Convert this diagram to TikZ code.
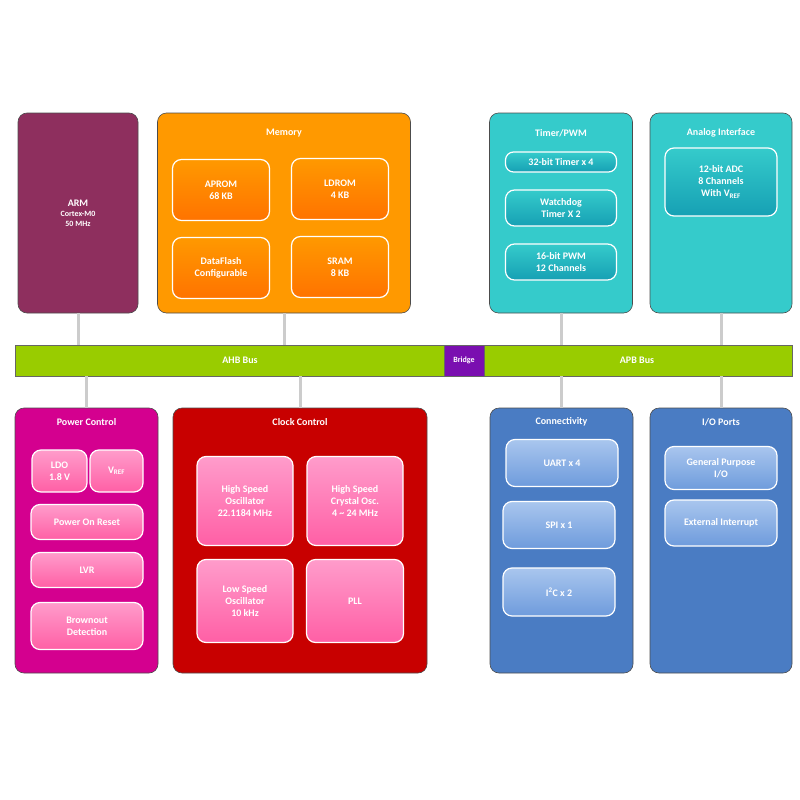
\documentclass[tikz,border=0pt]{standalone}
\usepackage{fontspec}
\setmainfont{Carlito}
\usetikzlibrary{positioning}
\definecolor{armc}{HTML}{8E2F5E}
\definecolor{memc}{HTML}{FF9900}
\definecolor{memi}{HTML}{FF7300}
\definecolor{tealc}{HTML}{35CBCB}
\definecolor{teali}{HTML}{16A0B4}
\definecolor{busc}{HTML}{99CC00}
\definecolor{bridgec}{HTML}{7A0FB0}
\definecolor{pwrc}{HTML}{D4008F}
\definecolor{clkc}{HTML}{C80000}
\definecolor{pinkt}{HTML}{FF9CCB}
\definecolor{pinkb}{HTML}{FF5FA5}
\definecolor{bluec}{HTML}{4A7CC3}
\definecolor{bluet}{HTML}{A9C6EE}
\definecolor{blueb}{HTML}{6E9BDC}
\tikzset{
  block/.style={draw=black!70, rounded corners=9pt, line width=0.6pt},
  unit/.style={draw=white, rounded corners=9pt, line width=1.2pt, align=center,
    text=white, font=\bfseries\fontsize{10}{12}\selectfont, inner sep=1pt},
  title/.style={text=white, font=\bfseries\fontsize{10}{12}\selectfont},
  link/.style={draw=black!20, line width=3pt},
}
\begin{document}
\begin{tikzpicture}[x=1pt, y=-1pt]
\useasboundingbox (0,0) rectangle (800,800);

% CPU and memory
\node[block, fill=armc, minimum width=120, minimum height=200] (arm) at (78,213) {};
\node[align=center, text=white, font=\bfseries\fontsize{8}{10}\selectfont] at (arm) {{\fontsize{10}{12}\selectfont ARM}\\Cortex-M0\\50 MHz};
\node[block, fill=memc, minimum width=253, minimum height=200] (mem) at (284,213) {};
\node[title] at (284,133) {Memory};
\node[unit, top color=memc, bottom color=memi, minimum width=97, minimum height=61] (aprom) at (221,190) {APROM\\68 KB};
\node[unit, top color=memc, bottom color=memi, minimum width=97, minimum height=61] (ldrom) at (340,189) {LDROM\\4 KB};
\node[unit, top color=memc, bottom color=memi, minimum width=97, minimum height=61] (flash) at (221,268) {DataFlash\\Configurable};
\node[unit, top color=memc, bottom color=memi, minimum width=97, minimum height=61] (sram) at (340,267) {SRAM\\8 KB};

% APB peripherals
\node[block, fill=tealc, minimum width=143, minimum height=200] (tmr) at (561,213) {};
\node[title] at (561,133) {Timer/PWM};
\node[unit, top color=tealc, bottom color=teali, minimum width=111, minimum height=20, rounded corners=8pt] (t32) at (561,162) {32-bit Timer x 4};
\node[unit, top color=tealc, bottom color=teali, minimum width=111, minimum height=36] (wdt) at (561,208) {Watchdog\\Timer X 2};
\node[unit, top color=tealc, bottom color=teali, minimum width=111, minimum height=36] (pwm) at (561,262) {16-bit PWM\\12 Channels};
\node[block, fill=tealc, minimum width=142, minimum height=200] (ana) at (721,213) {};
\node[title] at (721,133) {Analog Interface};
\node[unit, top color=tealc, bottom color=teali, minimum width=112, minimum height=68] (adc) at (721,182) {12-bit ADC\\8 Channels\\With V\textsubscript{REF}};

% buses
\node[draw=black!60, fill=busc, minimum width=429, minimum height=31, inner sep=0pt] (ahb) at (229.5,360.5) {};
\node[title] at (240,360.5) {AHB Bus};
\node[draw=black!60, fill=bridgec, minimum width=40, minimum height=31, inner sep=0pt, title] (bridge) at (464,360.5) {\fontsize{8}{10}\selectfont Bridge};
\node[draw=black!60, fill=busc, minimum width=308, minimum height=31, inner sep=0pt] (apb) at (638,360.5) {};
\node[title] at (637,360.5) {APB Bus};

% power and clock
\node[block, fill=pwrc, minimum width=143, minimum height=265] (pwr) at (86.5,540.5) {};
\node[title] at (86.5,422) {Power Control};
\node[unit, top color=pinkt, bottom color=pinkb, minimum width=55, minimum height=42] (ldo) at (59.5,471) {LDO\\1.8 V};
\node[unit, top color=pinkt, bottom color=pinkb, minimum width=53, minimum height=42] (vref) at (116.5,471) {V\textsubscript{REF}};
\node[unit, top color=pinkt, bottom color=pinkb, minimum width=112, minimum height=35] (por) at (87,522) {Power On Reset};
\node[unit, top color=pinkt, bottom color=pinkb, minimum width=112, minimum height=35] (lvr) at (87,570) {LVR};
\node[unit, top color=pinkt, bottom color=pinkb, minimum width=112, minimum height=47] (bod) at (87,626) {Brownout\\Detection};
\node[block, fill=clkc, minimum width=254, minimum height=265] (clk) at (300,540.5) {};
\node[title] at (300,422) {Clock Control};
\node[unit, top color=pinkt, bottom color=pinkb, minimum width=96, minimum height=89] (hirc) at (245,501) {High Speed\\Oscillator\\22.1184 MHz};
\node[unit, top color=pinkt, bottom color=pinkb, minimum width=96, minimum height=89] (hxt) at (355,501) {High Speed\\Crystal Osc.\\4 \textasciitilde{} 24 MHz};
\node[unit, top color=pinkt, bottom color=pinkb, minimum width=96, minimum height=83] (lirc) at (245,601) {Low Speed\\Oscillator\\10 kHz};
\node[unit, top color=pinkt, bottom color=pinkb, minimum width=97, minimum height=83] (pll) at (355,601) {PLL};

% connectivity and I/O
\node[block, fill=bluec, minimum width=143, minimum height=265] (conn) at (561.5,540.5) {};
\node[title] at (561.5,422) {Connectivity};
\node[unit, top color=bluet, bottom color=blueb, minimum width=112, minimum height=47] (uart) at (562,463) {UART x 4};
\node[unit, top color=bluet, bottom color=blueb, minimum width=112, minimum height=47] (spi) at (559,525) {SPI x 1};
\node[unit, top color=bluet, bottom color=blueb, minimum width=112, minimum height=48] (iic) at (559,592) {I\textsuperscript{2}C x 2};
\node[block, fill=bluec, minimum width=142, minimum height=265] (gpio) at (721,540.5) {};
\node[title] at (721,422) {I/O Ports};
\node[unit, top color=bluet, bottom color=blueb, minimum width=112, minimum height=43] (gp) at (721,468) {General Purpose\\I/O};
\node[unit, top color=bluet, bottom color=blueb, minimum width=112, minimum height=46] (eint) at (721,523) {External Interrupt};

% bus links
\draw[link] (arm.south) -- (arm.south |- ahb.north);
\draw[link] (mem.south) -- (mem.south |- ahb.north);
\draw[link] (tmr.south) -- (tmr.south |- apb.north);
\draw[link] (ana.south) -- (ana.south |- apb.north);
\draw[link] (pwr.north) -- (pwr.north |- ahb.south);
\draw[link] (clk.north) -- (clk.north |- ahb.south);
\draw[link] (conn.north) -- (conn.north |- apb.south);
\draw[link] (gpio.north) -- (gpio.north |- apb.south);
\end{tikzpicture}
\end{document}
